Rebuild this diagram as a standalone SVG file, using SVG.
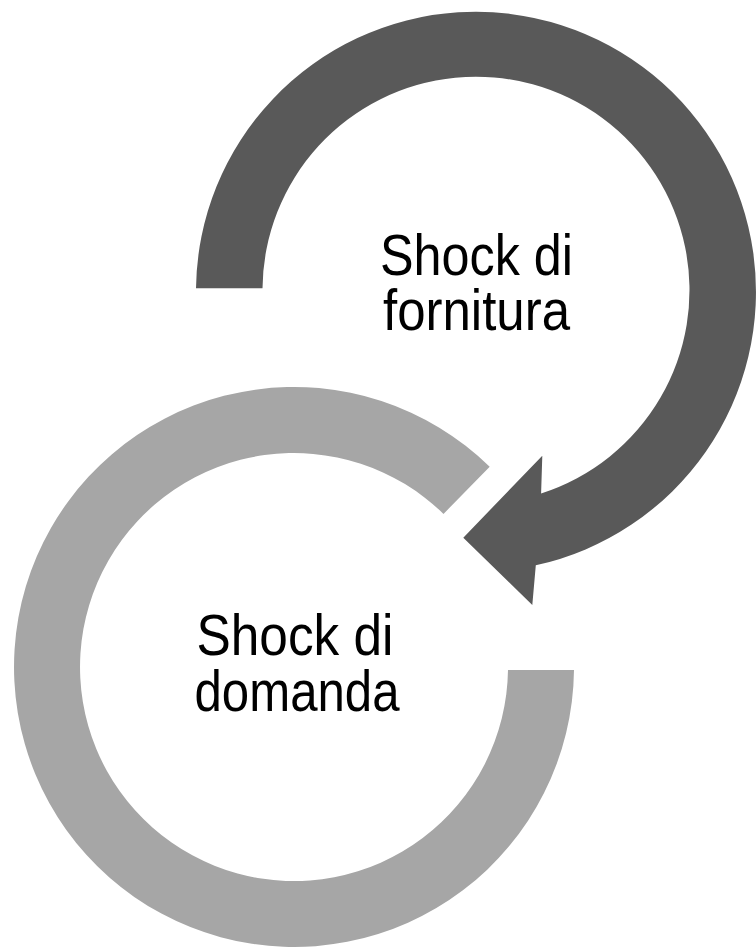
<svg xmlns="http://www.w3.org/2000/svg" width="756" height="947" viewBox="0 0 756 947">
  <style>
    .dark { fill: #595959; }
    .light { fill: #A6A6A6; }
    .lbl { font-family: "Liberation Sans", Arial, sans-serif; font-size: 57px; fill: #000000; }
  </style>
  <rect x="0" y="0" width="756" height="947" fill="#FFFFFF"/>
  <g id="connectors"></g>
  <g id="node-domanda">
    <path class="light" d="M 574 670 A 280 280 0 1 1 489.7 466.7 L 443.5 513.9 A 214 214 0 1 0 508 670 Z"/>
    <text class="lbl" x="295" y="655" text-anchor="middle" textLength="197" lengthAdjust="spacingAndGlyphs">Shock di</text>
    <text class="lbl" x="297" y="711" text-anchor="middle" textLength="205" lengthAdjust="spacingAndGlyphs">domanda</text>
  </g>
  <g id="node-fornitura">
    <path class="dark" d="M 196 288.3 A 280 280 0 1 1 535.8 565.3 L 532.3 605 L 463.3 537.7 L 542.3 455.7 L 541.1 493.5 A 213.5 213.5 0 1 0 262.5 288.3 Z"/>
    <text class="lbl" x="476.5" y="275" text-anchor="middle" textLength="193" lengthAdjust="spacingAndGlyphs">Shock di</text>
    <text class="lbl" x="476.5" y="330" text-anchor="middle" textLength="187" lengthAdjust="spacingAndGlyphs">fornitura</text>
  </g>
</svg>
